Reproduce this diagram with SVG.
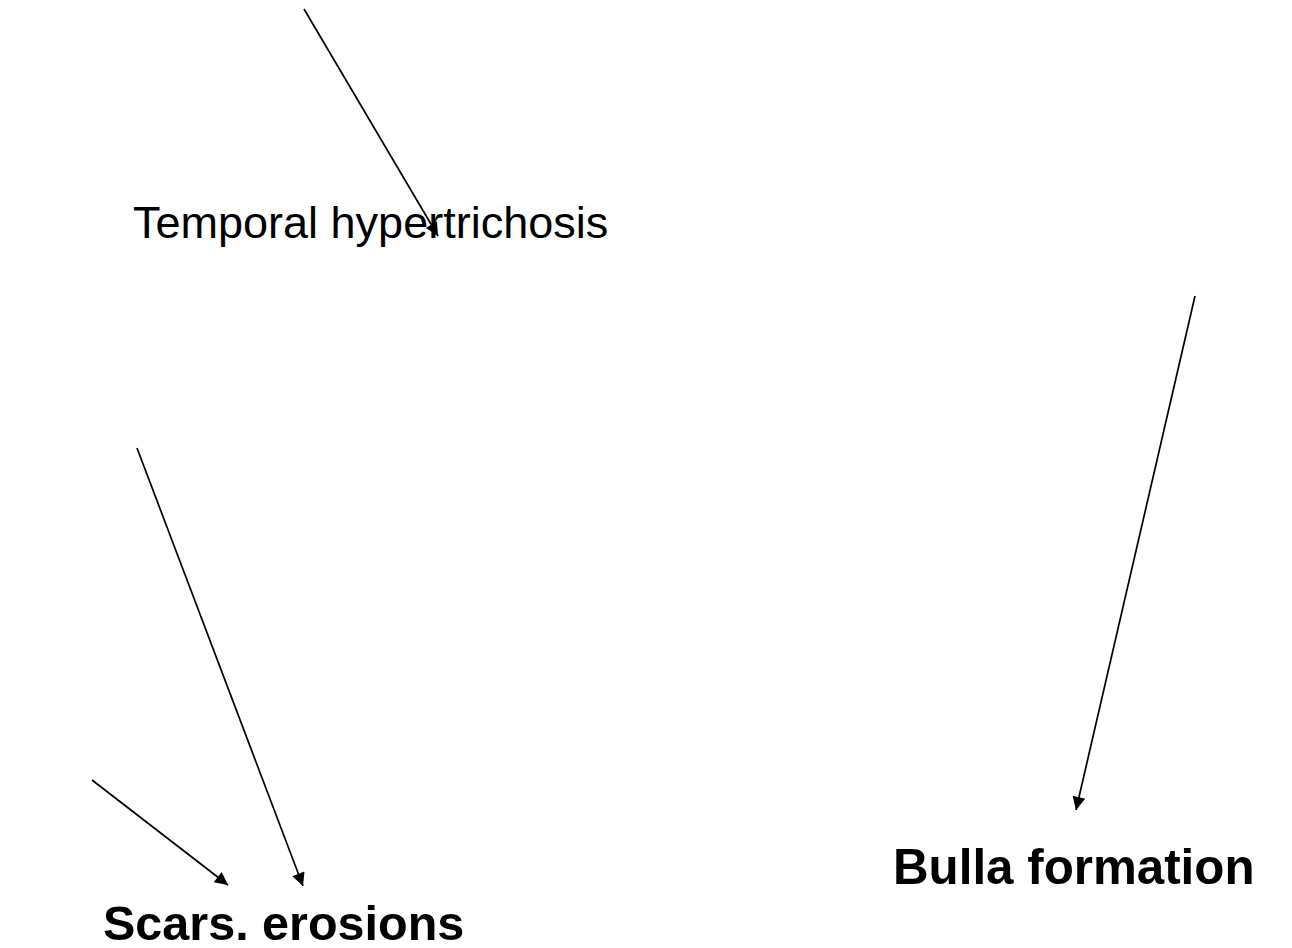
<svg xmlns="http://www.w3.org/2000/svg" width="1292" height="948" viewBox="0 0 1292 948">
<style>
.c{stroke:#000;stroke-width:1.7;fill:none;marker-end:url(#ah)}
.t{font-family:"Liberation Sans",Arial,sans-serif;fill:#000}
.b{font-weight:bold}
</style>
<defs>
<marker id="ah" viewBox="0 0 10 10" refX="10" refY="5" markerWidth="16" markerHeight="13" markerUnits="userSpaceOnUse" orient="auto">
<path d="M0,0 L10,5 L0,10 z" fill="#000"/>
</marker>
</defs>
<rect width="1292" height="948" fill="#fff"/>
<g id="connectors">
<line class="c" x1="304" y1="9" x2="438" y2="236"/>
<line class="c" x1="92" y1="780" x2="228" y2="885"/>
<line class="c" x1="137" y1="448" x2="303" y2="886"/>
<line class="c" x1="1195" y1="296" x2="1076" y2="810"/>
</g>
<g id="n1"><text class="t" x="133" y="238" font-size="45">Temporal hypertrichosis</text></g>
<g id="n2"><text class="t b" x="103" y="940" font-size="48.5">Scars. erosions</text></g>
<g id="n3"><text class="t b" x="893" y="884" font-size="49.3">Bulla formation</text></g>
</svg>
